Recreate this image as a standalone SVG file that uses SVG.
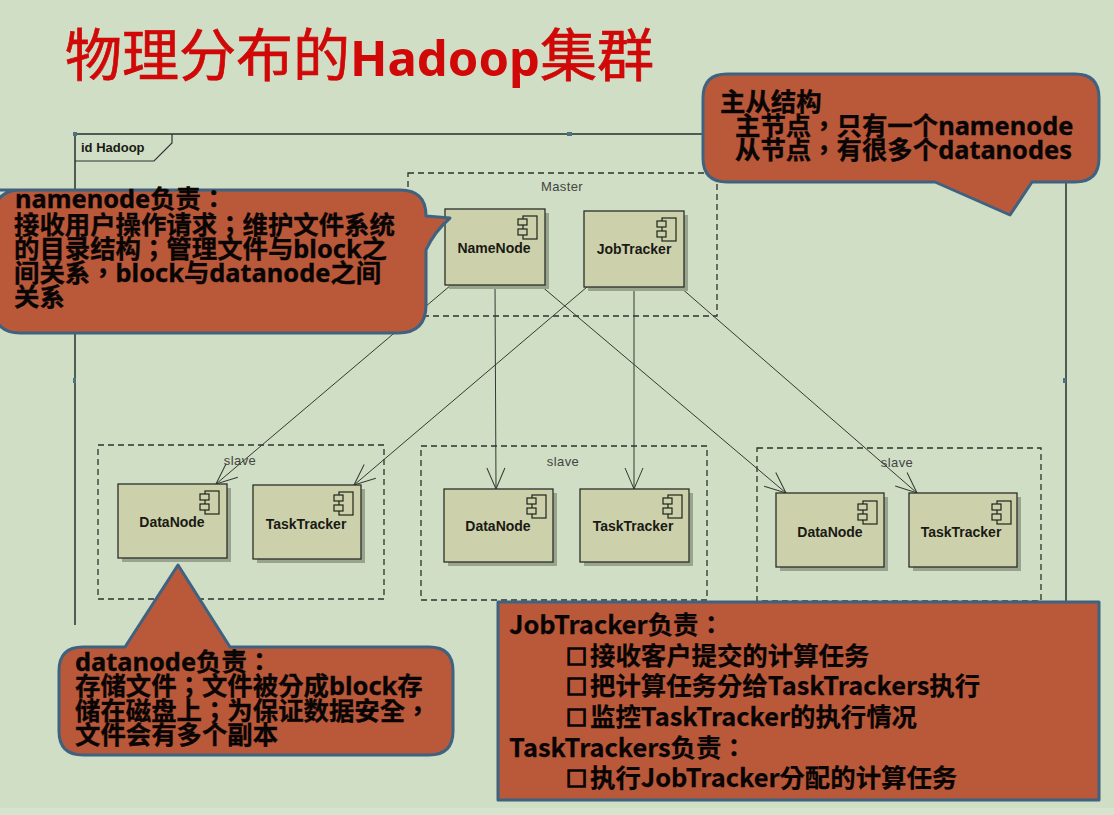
<svg xmlns="http://www.w3.org/2000/svg" width="1114" height="815" viewBox="0 0 1114 815">
<style>
.cn{font-family:"Noto Sans","Noto Sans CJK TC",sans-serif;font-weight:700;font-size:25.4px;fill:#0a0505;stroke:#0a0505;stroke-width:.35}
.bx{font-family:"Noto Sans CJK TC","Noto Sans",sans-serif;font-weight:700;font-size:25.4px;fill:#0a0505;stroke:#0a0505;stroke-width:.25}
.bl{font-size:21px;stroke-width:1.7}
.call{fill:#ba593a;stroke:#3e6280;stroke-width:3;stroke-linejoin:round}
.dash{fill:none;stroke:#2c332c;stroke-width:1.3;stroke-dasharray:6 4}
.shadow{fill:#98a48e}
.box{fill:#cdd1ab;stroke:#2a2f28;stroke-width:1.3}
.ic{fill:none;stroke:#1e231c;stroke-width:1.2}
.nl{font-family:"Liberation Sans",Arial,sans-serif;font-weight:700;font-size:14px;fill:#1a1a14;text-anchor:middle}
.gl{font-family:"Liberation Sans",Arial,sans-serif;font-size:13px;fill:#444;text-anchor:middle;letter-spacing:.4px}
.conn line{stroke:#333a33;stroke-width:1;marker-end:url(#arr)}
</style>
<defs>
<marker id="arr" markerUnits="userSpaceOnUse" markerWidth="28" markerHeight="28" refX="24" refY="14" orient="auto">
<path d="M3 5 L24 14 L3 23" fill="none" stroke="#333a33" stroke-width="1"/>
</marker>
<g id="ico">
<rect class="ic" x="-14" y="0" width="14" height="23"/>
<rect class="ic" x="-19" y="3" width="9" height="6" style="fill:#cdd1ab"/>
<rect class="ic" x="-19" y="13" width="9" height="6" style="fill:#cdd1ab"/>
</g>
</defs>
<rect width="1114" height="815" fill="#cfdec4"/>
<rect y="808" width="1114" height="7" fill="#d6e3cd"/>

<text x="65" y="76" font-family="Noto Sans CJK SC,sans-serif" font-size="57" fill="#d00808" stroke="#d00808" stroke-width=".7">物理分布的<tspan font-family="Noto Sans,sans-serif" font-weight="700" font-size="49" stroke-width="0">Hadoop</tspan>集群</text>

<g id="frame">
<path d="M75 625V134H703M1066 182V602" fill="none" stroke="#4d5d52" stroke-width="2"/>
<path d="M75 161H154L172 143V134" fill="none" stroke="#333" stroke-width="1.2"/>
<text x="81" y="152" font-family="Liberation Sans,sans-serif" font-weight="700" font-size="13" fill="#1a1a14">id Hadoop</text>
<rect x="73" y="132" width="4" height="4" fill="#4f7184"/>
<rect x="567" y="132" width="5" height="4" fill="#4f7184"/>
<rect x="73" y="378" width="3" height="5" fill="#4f7184"/>
<rect x="1063" y="378" width="3" height="5" fill="#4f7184"/>
</g>

<g id="master"><rect class="dash" x="408" y="173" width="309" height="143"/><text class="gl" x="562" y="191">Master</text></g>
<g id="slave1"><rect class="dash" x="98" y="445" width="286" height="154"/><text class="gl" x="240" y="465">slave</text></g>
<g id="slave2"><rect class="dash" x="421" y="446" width="286" height="154"/><text class="gl" x="563" y="466">slave</text></g>
<g id="slave3"><rect class="dash" x="757" y="448" width="284" height="153"/><text class="gl" x="897" y="467">slave</text></g>

<g id="connectors" class="conn">
<line x1="451" y1="285" x2="216" y2="484"/>
<line x1="495" y1="285" x2="496" y2="489"/>
<line x1="540" y1="285" x2="786" y2="493"/>
<line x1="587" y1="287" x2="354" y2="485"/>
<line x1="634" y1="287" x2="634" y2="489"/>
<line x1="680" y1="287" x2="917" y2="493"/>
</g>

<g id="namenode"><rect class="shadow" x="449" y="213" width="100" height="76"/><rect class="box" x="445" y="209" width="100" height="76"/><use href="#ico" x="537" y="216"/><text class="nl" x="494" y="253">NameNode</text></g>
<g id="jobtracker"><rect class="shadow" x="588" y="215" width="100" height="76"/><rect class="box" x="584" y="211" width="100" height="76"/><use href="#ico" x="676" y="218"/><text class="nl" x="634" y="254">JobTracker</text></g>
<g id="datanode1"><rect class="shadow" x="122" y="488" width="109" height="74"/><rect class="box" x="118" y="484" width="109" height="74"/><use href="#ico" x="219" y="491"/><text class="nl" x="172" y="527">DataNode</text></g>
<g id="tasktracker1"><rect class="shadow" x="257" y="489" width="108" height="74"/><rect class="box" x="253" y="485" width="108" height="74"/><use href="#ico" x="353" y="492"/><text class="nl" x="306" y="529">TaskTracker</text></g>
<g id="datanode2"><rect class="shadow" x="448" y="493" width="109" height="73"/><rect class="box" x="444" y="489" width="109" height="73"/><use href="#ico" x="546" y="495"/><text class="nl" x="498" y="531">DataNode</text></g>
<g id="tasktracker2"><rect class="shadow" x="584" y="493" width="109" height="73"/><rect class="box" x="580" y="489" width="109" height="73"/><use href="#ico" x="682" y="495"/><text class="nl" x="633" y="531">TaskTracker</text></g>
<g id="datanode3"><rect class="shadow" x="780" y="497" width="108" height="74"/><rect class="box" x="776" y="493" width="108" height="74"/><use href="#ico" x="877" y="501"/><text class="nl" x="830" y="537">DataNode</text></g>
<g id="tasktracker3"><rect class="shadow" x="913" y="497" width="108" height="74"/><rect class="box" x="909" y="493" width="108" height="74"/><use href="#ico" x="1011" y="501"/><text class="nl" x="961" y="537">TaskTracker</text></g>

<g id="callout-namenode">
<path class="call" d="M-20 190H400Q426 190 426 216L450 218Q434 232 426 250V305Q426 333 398 333H20Q-8 333 -8 300V225Q-8 190 20 190Z"/>
<text class="cn" x="15" y="208">namenode负责&#xFF1A;</text>
<text class="cn" x="14" y="234">接收用户操作请求&#xFF1B;维护文件系统</text>
<text class="cn" x="14" y="258">的目录结构&#xFF1B;管理文件与block之</text>
<text class="cn" x="14" y="282">间关系&#xFF0C;block与datanode之间</text>
<text class="cn" x="14" y="306">关系</text>
</g>

<g id="callout-master">
<path class="call" d="M727 74H1075Q1099 74 1099 98V158Q1099 182 1075 182H1032L1010 215L935 182H727Q703 182 703 158V98Q703 74 727 74Z"/>
<text class="cn" x="720" y="111">主从结构</text>
<text class="cn" x="735" y="135">主节点&#xFF0C;只有一个namenode</text>
<text class="cn" x="735" y="159">从节点&#xFF0C;有很多个datanodes</text>
</g>

<g id="callout-datanode">
<path class="call" d="M83 647H125L178 565L230 647H429Q453 647 453 671V731Q453 755 429 755H83Q59 755 59 731V671Q59 647 83 647Z"/>
<text class="cn" x="75" y="671">datanode负责&#xFF1A;</text>
<text class="cn" x="75" y="695">存储文件&#xFF1B;文件被分成block存</text>
<text class="cn" x="75" y="720">储在磁盘上&#xFF1B;为保证数据安全&#xFF0C;</text>
<text class="cn" x="75" y="744">文件会有多个副本</text>
</g>

<g id="box-jobtracker">
<rect class="call" x="498" y="602" width="601" height="198"/>
<text class="bx" x="509" y="634">JobTracker负责&#xFF1A;</text>
<text class="bx" x="566" y="664"><tspan class="bl">□</tspan><tspan x="590" y="665">接收客户提交的计算任务</tspan></text>
<text class="bx" x="566" y="694"><tspan class="bl">□</tspan><tspan x="590" y="695">把计算任务分给TaskTrackers执行</tspan></text>
<text class="bx" x="566" y="725"><tspan class="bl">□</tspan><tspan x="590" y="726">监控TaskTracker的执行情况</tspan></text>
<text class="bx" x="509" y="757">TaskTrackers负责&#xFF1A;</text>
<text class="bx" x="566" y="786"><tspan class="bl">□</tspan><tspan x="590" y="787">执行JobTracker分配的计算任务</tspan></text>
</g>
</svg>
